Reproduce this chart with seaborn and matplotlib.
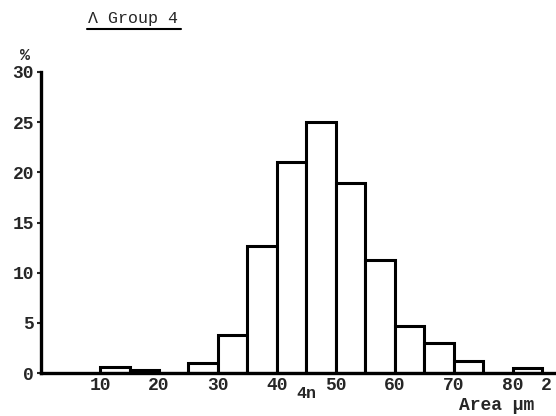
import matplotlib
matplotlib.use('Agg')
import matplotlib.pyplot as plt
import seaborn as sns
import numpy as np

# histogram: bin left edges (um^2) and percent of nuclei
bin_left = [10, 15, 20, 25, 30, 35, 40, 45, 50, 55, 60, 65, 70, 75, 80]
percent = [0.6, 0.3, 0.0, 1.0, 3.8, 12.7, 21.0, 25.0, 18.9, 11.3, 4.7, 3.0, 1.2, 0.0, 0.5]
bin_width = 5
x_ticks = [10, 20, 30, 40, 50, 60, 70, 80]
y_ticks = [0, 5, 10, 15, 20, 25, 30]

sns.set_style('ticks')
plt.rcParams['font.family'] = ['Liberation Mono', 'DejaVu Sans']

fig = plt.figure(figsize=(5.56, 4.16), dpi=100)
ax = fig.add_axes([0.074, 0.103, 0.922, 0.724])

centers = np.array(bin_left) + bin_width / 2
sns.histplot(x=centers, weights=percent, binwidth=bin_width,
             binrange=(bin_left[0], bin_left[-1] + bin_width),
             color='white', edgecolor='black', linewidth=2.2, alpha=1, ax=ax)

ax.set_xlim(0, 87)
ax.set_ylim(0, 30)
ax.set_xticks(x_ticks)
ax.set_yticks(y_ticks)
ax.set_xticklabels([str(t) for t in x_ticks], fontsize=13, fontweight='bold')
ax.set_yticklabels([str(t) for t in y_ticks], fontsize=13, fontweight='bold')
ax.tick_params(axis='x', length=0, pad=3)
ax.tick_params(axis='y', length=3, width=1.5, pad=2)
ax.set_xlabel('')
ax.set_ylabel('')

sns.despine(ax=ax, top=True, right=True)
for side in ('left', 'bottom'):
    ax.spines[side].set_linewidth(2.4)
    ax.spines[side].set_color('black')

# title with underline
fig.text(88 / 556, 1 - 18 / 416, '\u039b Group 4', fontsize=12, va='center', ha='left')
fig.add_artist(plt.Line2D([87 / 556, 181 / 556], [1 - 29 / 416, 1 - 29 / 416],
                          color='black', linewidth=1.5))

fig.text(25 / 556, 1 - 55 / 416, '%', fontsize=12, fontweight='bold', ha='center', va='center')
fig.text(306 / 556, 1 - 394 / 416, '4n', fontsize=12, fontweight='bold', ha='center', va='center')
fig.text(534 / 556, 1 - 406 / 416, 'Area \u00b5m', fontsize=13, fontweight='bold', ha='right', va='center')
fig.text(546 / 556, 1 - 386 / 416, '2', fontsize=13, fontweight='bold', ha='center', va='center')

fig.savefig('out.png', dpi=100)
